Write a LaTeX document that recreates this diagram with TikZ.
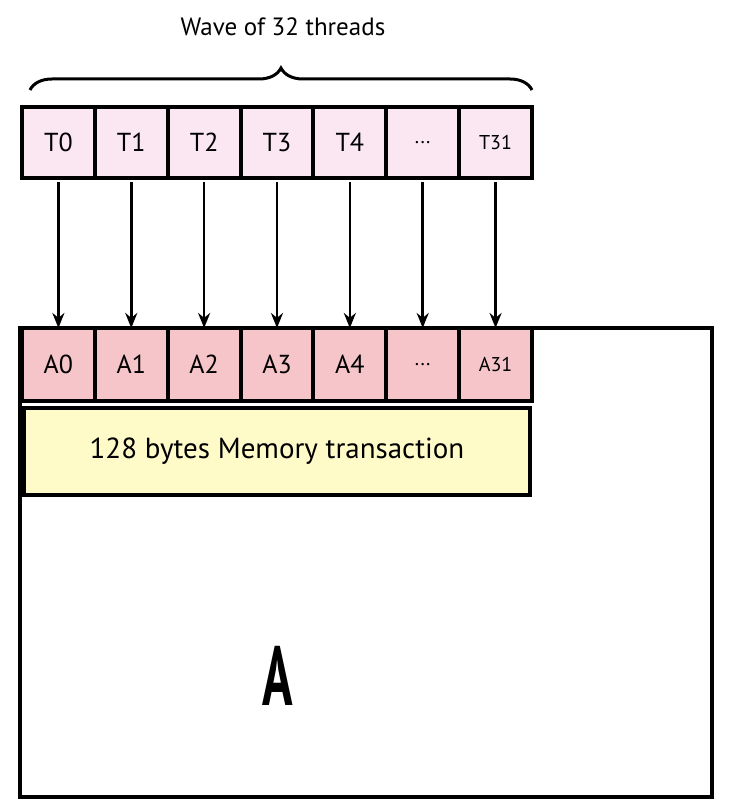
\documentclass[tikz,border=0pt]{standalone}
\usepackage{fontspec}
\setmainfont{PT Sans}
\usetikzlibrary{arrows.meta, positioning, decorations.pathreplacing}
\definecolor{threadpink}{HTML}{FBE7F2}
\definecolor{addrrose}{HTML}{F5C5C9}
\definecolor{txnyellow}{HTML}{FEFBC9}

\begin{document}
\begin{tikzpicture}[
    x = 1pt, y = -1pt,
    node distance = 0pt,
    tbox/.style  = {draw = black, line width = 4pt, fill = threadpink,
                    minimum width = 72.86pt, minimum height = 71pt,
                    inner sep = 0pt, outer sep = 0pt,
                    font = \fontsize{26}{30}\selectfont},
    abox/.style  = {tbox, fill = addrrose, minimum height = 73pt},
    small/.style = {font = \fontsize{20}{24}\selectfont},
    txn/.style   = {draw = black, line width = 4pt, fill = txnyellow,
                    minimum width = 506pt, minimum height = 87pt,
                    inner sep = 0pt, outer sep = 0pt,
                    font = \fontsize{29}{33}\selectfont},
    mem/.style   = {draw = black, line width = 3.5pt, fill = white,
                    minimum width = 692pt, minimum height = 469pt,
                    inner sep = 0pt, outer sep = 0pt},
    arr/.style   = {-{Stealth[length = 15pt, width = 12pt]}, line width = 2.6pt,
                    shorten <= 4pt},
    brace/.style = {decorate, decoration = {brace, amplitude = 22pt},
                    line width = 3pt},
  ]
    \useasboundingbox (0,0) rectangle (730,810);

    %% ── Memory block A ───────────────────────────────────────────
    \node[mem] (memA) at (366,562.5) {};
    \node[font = \fontsize{84}{84}\selectfont] (alabel) at (278,676)
      {\scalebox{0.6}[1]{\bfseries A}};

    %% ── Thread row ───────────────────────────────────────────────
    \node[tbox] (t0) at (58.4,142.5) {T0};
    \node[tbox, right=of t0] (t1) {T1};
    \node[tbox, right=of t1] (t2) {T2};
    \node[tbox, right=of t2] (t3) {T3};
    \node[tbox, right=of t3] (t4) {T4};
    \node[tbox, small, right=of t4] (t5) {...};
    \node[tbox, small, right=of t5] (t6) {T31};

    %% ── Address row ──────────────────────────────────────────────
    \node[abox] (a0) at (58.4,364.5) {A0};
    \node[abox, right=of a0] (a1) {A1};
    \node[abox, right=of a1] (a2) {A2};
    \node[abox, right=of a2] (a3) {A3};
    \node[abox, right=of a3] (a4) {A4};
    \node[abox, small, right=of a4] (a5) {...};
    \node[abox, small, right=of a5] (a6) {A31};

    %% ── Transaction ──────────────────────────────────────────────
    \node[txn, below=7pt of a3] (txn) {128 bytes Memory transaction};

    %% ── Thread to address arrows ─────────────────────────────────
    \draw[arr] (t0) -- (a0);
    \draw[arr] (t1) -- (a1);
    \draw[arr] (t2) -- (a2);
    \draw[arr] (t3) -- (a3);
    \draw[arr] (t4) -- (a4);
    \draw[arr] (t5) -- (a5);
    \draw[arr] (t6) -- (a6);

    %% ── Brace and title ──────────────────────────────────────────
    \draw[brace] ([xshift=8pt, yshift=17pt]t0.north west)
              -- ([yshift=17pt]t6.north east);
    \node[font = \fontsize{25}{29}\selectfont] (title) at (283,27)
      {Wave of 32 threads};
  \end{tikzpicture}
\end{document}
